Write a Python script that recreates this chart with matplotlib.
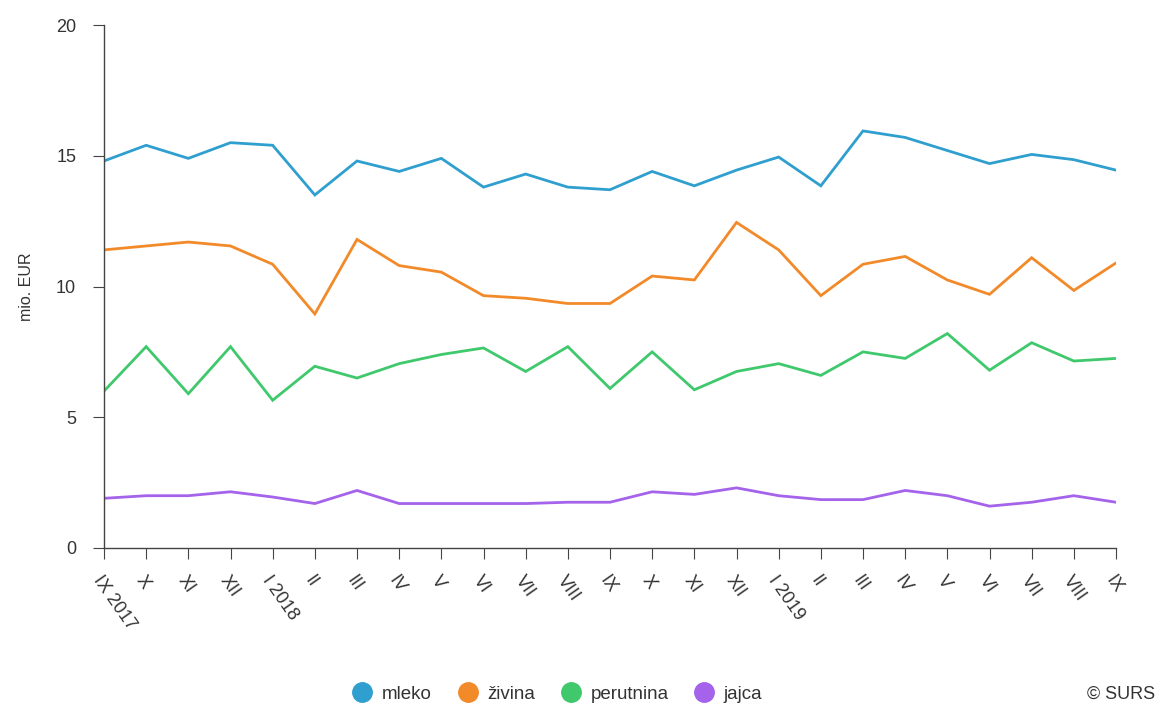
import matplotlib
matplotlib.use("Agg")
import matplotlib.pyplot as plt
from matplotlib.lines import Line2D

plt.rcParams['font.family'] = ['Liberation Sans', 'DejaVu Sans']

months = ['IX 2017', 'X', 'XI', 'XII', 'I 2018', 'II', 'III', 'IV', 'V', 'VI', 'VII', 'VIII',
          'IX', 'X', 'XI', 'XII', 'I 2019', 'II', 'III', 'IV', 'V', 'VI', 'VII', 'VIII', 'IX']

mleko = [14.8, 15.4, 14.9, 15.5, 15.4, 13.5, 14.8, 14.4, 14.9, 13.8, 14.3, 13.8, 13.7,
         14.4, 13.85, 14.45, 14.95, 13.85, 15.95, 15.7, 15.2, 14.7, 15.05, 14.85, 14.45]
zivina = [11.4, 11.55, 11.7, 11.55, 10.85, 8.95, 11.8, 10.8, 10.55, 9.65, 9.55, 9.35, 9.35,
          10.4, 10.25, 12.45, 11.4, 9.65, 10.85, 11.15, 10.25, 9.7, 11.1, 9.85, 10.9]
perutnina = [6.0, 7.7, 5.9, 7.7, 5.65, 6.95, 6.5, 7.05, 7.4, 7.65, 6.75, 7.7, 6.1,
             7.5, 6.05, 6.75, 7.05, 6.6, 7.5, 7.25, 8.2, 6.8, 7.85, 7.15, 7.25]
jajca = [1.9, 2.0, 2.0, 2.15, 1.95, 1.7, 2.2, 1.7, 1.7, 1.7, 1.7, 1.75, 1.75,
         2.15, 2.05, 2.3, 2.0, 1.85, 1.85, 2.2, 2.0, 1.6, 1.75, 2.0, 1.75]

series = [('mleko', mleko, '#2f9fcf'),
          ('živina', zivina, '#f28a2a'),
          ('perutnina', perutnina, '#3fc86c'),
          ('jajca', jajca, '#a463ea')]

fig = plt.figure(figsize=(11.62, 7.1), dpi=100)
ax = fig.add_axes([104 / 1162, 162 / 710, 1012 / 1162, 523 / 710])

x = list(range(len(months)))
for name, vals, col in series:
    ax.plot(x, vals, color=col, lw=2.0, solid_joinstyle='miter')

ax.set_xlim(0, len(months) - 1)
ax.set_ylim(0, 20)
ax.set_yticks([0, 5, 10, 15, 20])
ax.set_xticks(x)
# va='top' with anchor rotation pushes the labels down-left of the tick, like the original
ax.set_xticklabels(months, rotation=-55, ha='left', va='top', rotation_mode='anchor')

for s in ['top', 'right']:
    ax.spines[s].set_visible(False)
for s in ['left', 'bottom']:
    ax.spines[s].set_color('#444444')
    ax.spines[s].set_linewidth(1.0)

ax.tick_params(axis='y', length=8, color='#444444', labelsize=13, labelcolor='#333333', pad=12)
ax.tick_params(axis='x', length=8, color='#444444', labelsize=13, labelcolor='#333333', pad=10)

ax.set_ylabel('mio. EUR', fontsize=11.5, color='#333333', labelpad=16)

handles = [Line2D([], [], marker='o', ls='none', markersize=14, color=c, label=n)
           for n, v, c in series]
fig.legend(handles=handles, loc='center', bbox_to_anchor=(0.476, 0.022), ncol=4, frameon=False,
           fontsize=13.5, handletextpad=0.05, columnspacing=0.9, labelcolor='#333333')

fig.text(0.994, 0.022, '© SURS', ha='right', va='center', fontsize=13, color='#333333')

fig.savefig('out.png', dpi=100)
